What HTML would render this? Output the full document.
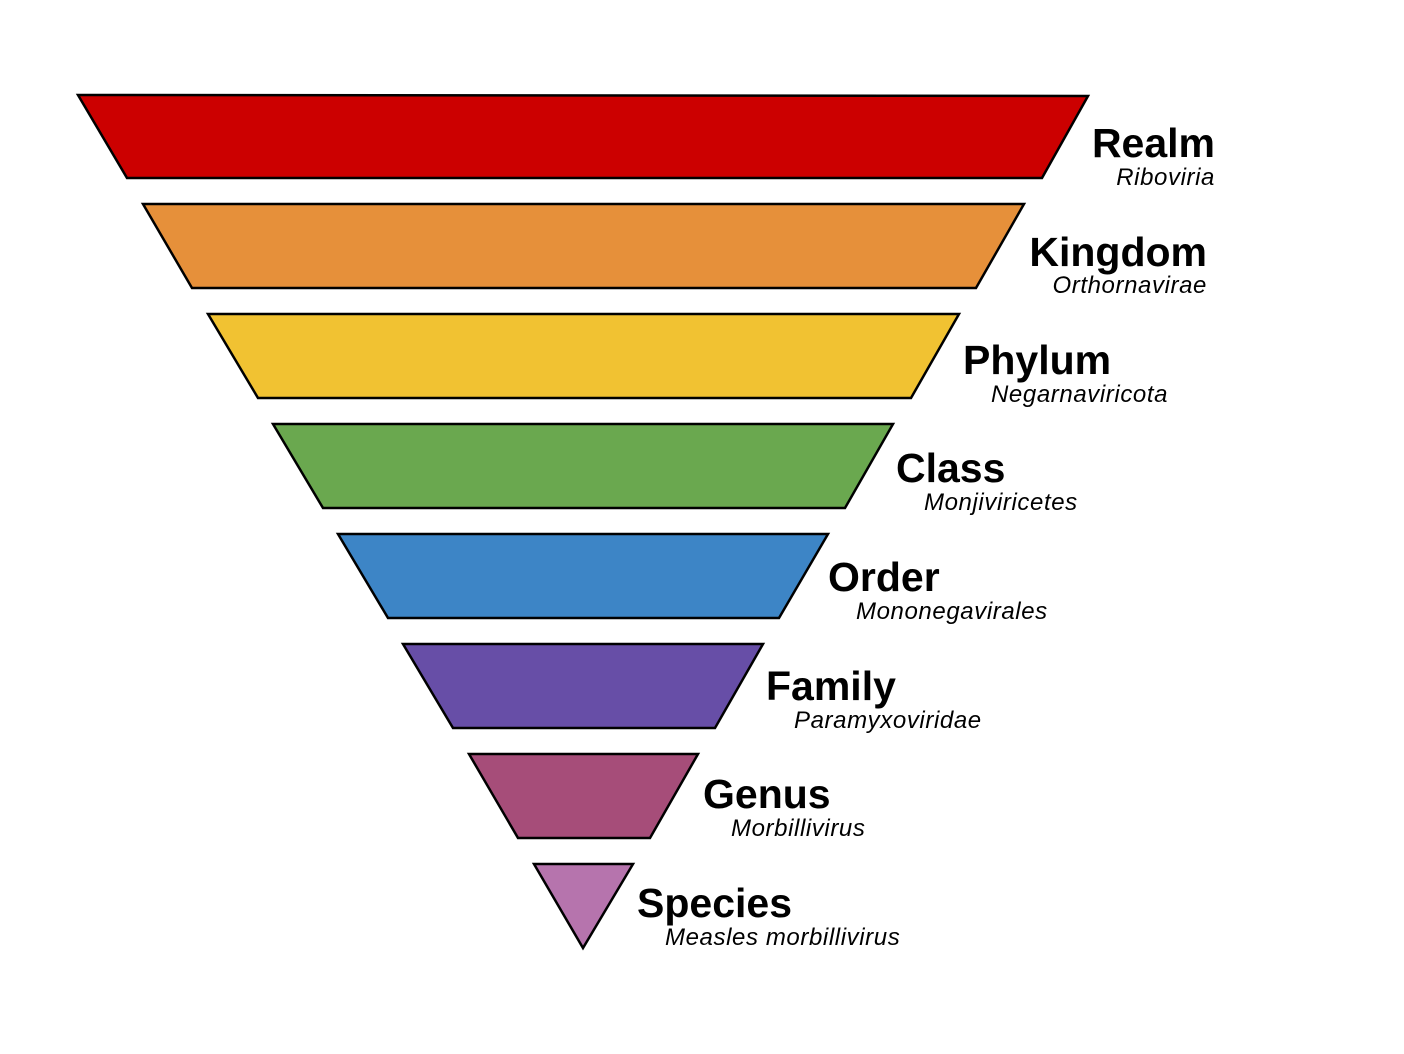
<!DOCTYPE html>
<html><head><meta charset="utf-8"><style>
html,body{margin:0;padding:0;background:#fff;}
svg{display:block;}
.b{font-family:"Liberation Sans",sans-serif;font-weight:bold;font-size:41px;fill:#000;}
.i{font-family:"Liberation Sans",sans-serif;font-style:italic;font-size:24px;letter-spacing:0.6px;fill:#000;}
</style></head><body>
<svg width="1404" height="1054" viewBox="0 0 1404 1054" xmlns="http://www.w3.org/2000/svg">
<g stroke="#000" stroke-width="2.5" stroke-linejoin="miter">
<polygon points="78,95 1088,96 1042,178 127,178" fill="#cc0000"/>
<polygon points="143,204 1024,204 976,288 192,288" fill="#e6903a"/>
<polygon points="208,314 959,314 911,398 258,398" fill="#f1c232"/>
<polygon points="273,424 893,424 845,508 323,508" fill="#6aa84f"/>
<polygon points="338,534 828,534 779,618 388,618" fill="#3d85c6"/>
<polygon points="403,644 763,644 715,728 453,728" fill="#674ea7"/>
<polygon points="469,754 698,754 650,838 518,838" fill="#a64d79"/>
<polygon points="534,864 633,864 583,948" fill="#b674ad"/>
</g>
<text class="b" x="1215" y="157" text-anchor="end">Realm</text>
<text class="i" x="1215" y="185" text-anchor="end">Riboviria</text>
<text class="b" x="1207" y="266" text-anchor="end">Kingdom</text>
<text class="i" x="1207" y="293" text-anchor="end">Orthornavirae</text>
<text class="b" x="963" y="374">Phylum</text>
<text class="i" x="991" y="402">Negarnaviricota</text>
<text class="b" x="896" y="482">Class</text>
<text class="i" x="924" y="510">Monjiviricetes</text>
<text class="b" x="828" y="591">Order</text>
<text class="i" x="856" y="619">Mononegavirales</text>
<text class="b" x="766" y="700">Family</text>
<text class="i" x="794" y="728">Paramyxoviridae</text>
<text class="b" x="703" y="808">Genus</text>
<text class="i" x="731" y="836">Morbillivirus</text>
<text class="b" x="637" y="917">Species</text>
<text class="i" x="665" y="945">Measles morbillivirus</text>
</svg>
</body></html>
